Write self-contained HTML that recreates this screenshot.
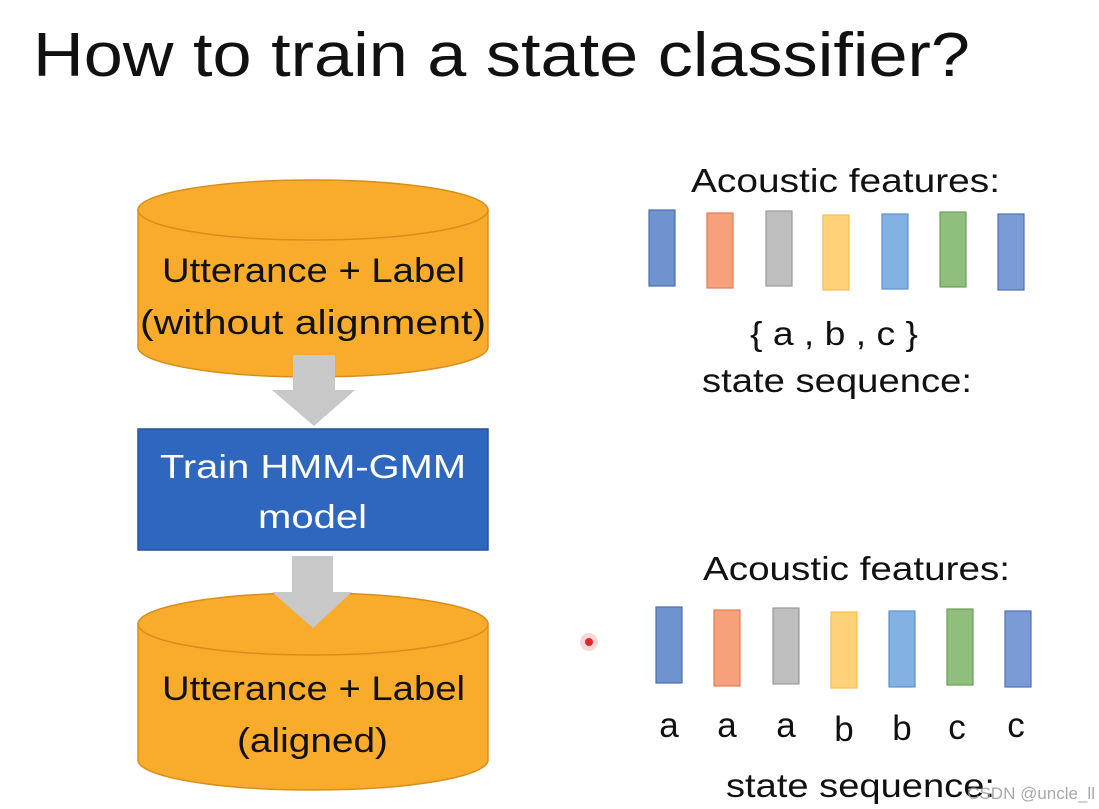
<!DOCTYPE html>
<html><head><meta charset="utf-8"><style>
html,body{margin:0;padding:0;background:#fff;}
svg{display:block;font-family:"Liberation Sans","DejaVu Sans",sans-serif;}
</style></head><body>
<svg width="1099" height="809" viewBox="0 0 1099 809" xmlns="http://www.w3.org/2000/svg">
<rect width="1099" height="809" fill="#fff"/>
<text x="33" y="76" font-size="62" fill="#111" textLength="937" lengthAdjust="spacingAndGlyphs">How to train a state classifier?</text>

<path d="M138 210 L138 347 A175 30 0 0 0 488 347 L488 210 Z" fill="#F9AC2C" stroke="#D88E1A" stroke-width="1.5"/>
<ellipse cx="313" cy="210" rx="175" ry="30" fill="#F9AC2C" stroke="#D88E1A" stroke-width="1.5"/>
<text x="162" y="282" font-size="34" fill="#111" textLength="303" lengthAdjust="spacingAndGlyphs">Utterance + Label</text>
<text x="140" y="334" font-size="34" fill="#111" textLength="346" lengthAdjust="spacingAndGlyphs">(without alignment)</text>

<polygon points="293,355 335,355 335,390 355,390 314,426 272,390 293,390" fill="#C8C8C8"/>

<rect x="138" y="429" width="350" height="121" fill="#2E67BD" stroke="#24539A" stroke-width="1.5"/>
<text x="160" y="478" font-size="33" fill="#fff" textLength="306" lengthAdjust="spacingAndGlyphs">Train HMM-GMM</text>
<text x="258" y="528" font-size="33" fill="#fff" textLength="109" lengthAdjust="spacingAndGlyphs">model</text>

<path d="M138 624 L138 760 A175 30 0 0 0 488 760 L488 624 Z" fill="#F9AC2C" stroke="#D88E1A" stroke-width="1.5"/>
<ellipse cx="313" cy="624" rx="175" ry="31" fill="#F9AC2C" stroke="#D88E1A" stroke-width="1.5"/>
<polygon points="292,556 333,556 333,592 352,592 313,628 272,592 292,592" fill="#C8C8C8"/>
<text x="162" y="700" font-size="34" fill="#111" textLength="303" lengthAdjust="spacingAndGlyphs">Utterance + Label</text>
<text x="237" y="752" font-size="34" fill="#111" textLength="151" lengthAdjust="spacingAndGlyphs">(aligned)</text>

<text x="691" y="192" font-size="33" fill="#111" textLength="309" lengthAdjust="spacingAndGlyphs">Acoustic features:</text>
<g stroke-width="1.2">
<rect x="649" y="210" width="26" height="76" fill="#6E93CE" stroke="#4A6FAE"/>
<rect x="707" y="213" width="26" height="75" fill="#F7A07C" stroke="#E07D55"/>
<rect x="766" y="211" width="26" height="75" fill="#BEBEBE" stroke="#9A9A9A"/>
<rect x="823" y="215" width="26" height="75" fill="#FFD27A" stroke="#F5C04A"/>
<rect x="882" y="214" width="26" height="75" fill="#82B1E2" stroke="#5B92CF"/>
<rect x="940" y="212" width="26" height="75" fill="#8FBE7D" stroke="#6A9E57"/>
<rect x="998" y="214" width="26" height="76" fill="#7B9BD6" stroke="#4E70B6"/>
</g>
<text x="750" y="345" font-size="33" fill="#111" textLength="168" lengthAdjust="spacingAndGlyphs">{ a , b , c }</text>
<text x="702" y="392" font-size="33" fill="#111" textLength="270" lengthAdjust="spacingAndGlyphs">state sequence:</text>

<text x="703" y="580" font-size="33" fill="#111" textLength="307" lengthAdjust="spacingAndGlyphs">Acoustic features:</text>
<g stroke-width="1.2">
<rect x="656" y="607" width="26" height="76" fill="#6E93CE" stroke="#4A6FAE"/>
<rect x="714" y="610" width="26" height="76" fill="#F7A07C" stroke="#E07D55"/>
<rect x="773" y="608" width="26" height="76" fill="#BEBEBE" stroke="#9A9A9A"/>
<rect x="831" y="612" width="26" height="76" fill="#FFD27A" stroke="#F5C04A"/>
<rect x="889" y="611" width="26" height="76" fill="#82B1E2" stroke="#5B92CF"/>
<rect x="947" y="609" width="26" height="76" fill="#8FBE7D" stroke="#6A9E57"/>
<rect x="1005" y="611" width="26" height="76" fill="#7B9BD6" stroke="#4E70B6"/>
</g>
<g font-size="35" text-anchor="middle" fill="#111">
<text x="669" y="737">a</text>
<text x="727" y="737">a</text>
<text x="786" y="737">a</text>
<text x="844" y="741">b</text>
<text x="902" y="740">b</text>
<text x="957" y="739">c</text>
<text x="1016" y="737">c</text>
</g>
<text x="726" y="797" font-size="33" fill="#111" textLength="269" lengthAdjust="spacingAndGlyphs">state sequence:</text>
<text x="1095" y="799" font-size="17" text-anchor="end" fill="#999" opacity="0.85">CSDN @uncle_ll</text>

<circle cx="589" cy="642" r="9" fill="#F6C7C7" opacity="0.7"/>
<circle cx="589" cy="642" r="4" fill="#E02828"/>
</svg>
</body></html>
